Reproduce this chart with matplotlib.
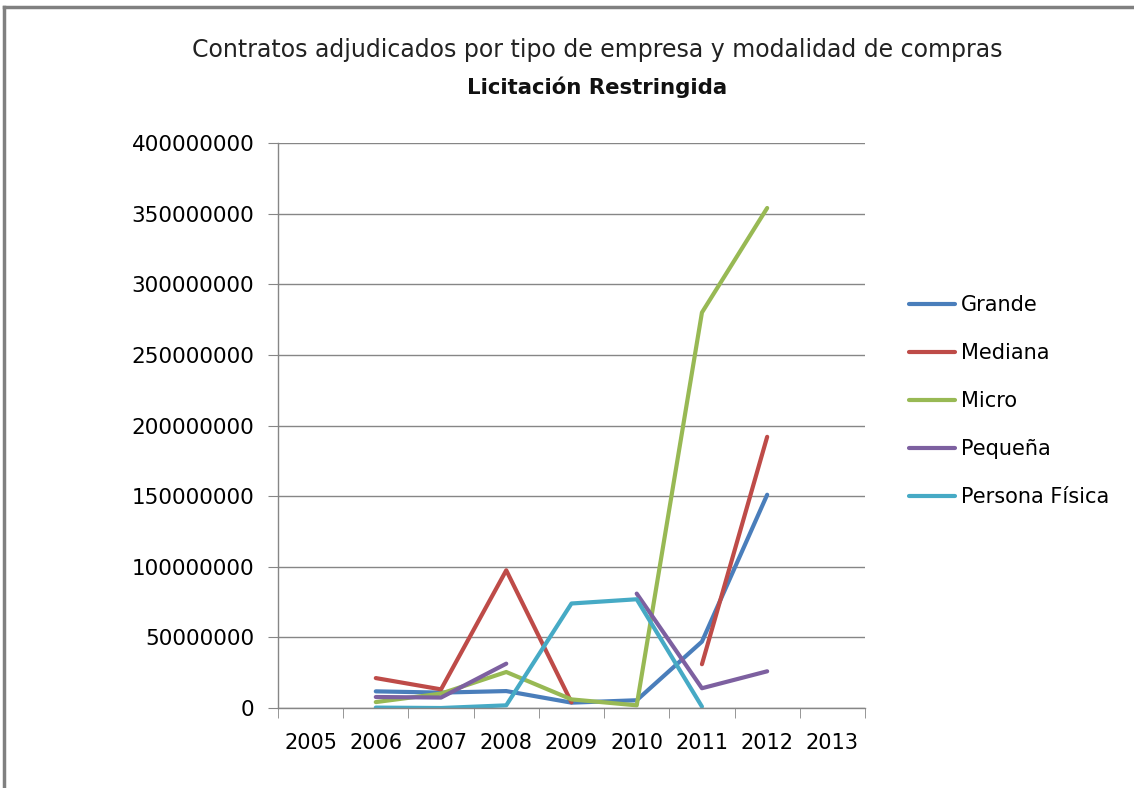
import numpy as np
import matplotlib
matplotlib.use("Agg")
import matplotlib.pyplot as plt
from matplotlib.lines import Line2D

# categories on the x axis (2005 and 2013 carry no data)
years = ["2005", "2006", "2007", "2008", "2009", "2010", "2011", "2012", "2013"]
nan = np.nan

# values, one per year
grande = [nan, 11.8e6, 10.9e6, 12.0e6, 3.8e6, 5.5e6, 47e6, 151e6, nan]
mediana = [nan, 21.2e6, 13.2e6, 97.5e6, 4.0e6, nan, 31e6, 192e6, nan]
micro = [nan, 4.2e6, 10.2e6, 25.5e6, 6.1e6, 1.9e6, 280e6, 354e6, nan]
pequena = [nan, 7.8e6, 7.4e6, 31.4e6, nan, 81e6, 14e6, 26e6, nan]
persona = [nan, 0.3e6, 0.0, 1.9e6, 74e6, 77e6, 1.0e6, nan, nan]

series = [("Grande", grande, "#4A7EBB"),
          ("Mediana", mediana, "#BE4B48"),
          ("Micro", micro, "#98B954"),
          ("Pequeña", pequena, "#7D60A0"),
          ("Persona Física", persona, "#46AAC5")]

fig = plt.figure(figsize=(11.34, 7.88), dpi=100)
ax = fig.add_axes([0.2451, 0.1015, 0.5177, 0.717])

x = np.arange(len(years))
for name, vals, col in series:
    ax.plot(x, vals, color=col, lw=3, label=name, solid_capstyle="round",
            solid_joinstyle="round")

ax.set_xlim(-0.5, len(years) - 0.5)
ax.set_ylim(0, 400e6)
ax.set_yticks(np.arange(0, 400e6 + 1, 50e6))
ax.set_yticklabels([str(int(v)) for v in np.arange(0, 400e6 + 1, 50e6)])
ax.set_xticks(x)
ax.set_xticklabels(years)
ax.set_xticks(np.arange(-0.5, len(years)), minor=True)
ax.tick_params(axis="x", which="major", length=0, pad=18, labelsize=15)
ax.tick_params(axis="x", which="minor", length=7, color="#868686", direction="out")
ax.tick_params(axis="y", length=7, color="#868686", pad=10, labelsize=15.5)
ax.yaxis.grid(True, color="#868686", lw=1)
ax.set_axisbelow(True)
for s in ["top", "right"]:
    ax.spines[s].set_visible(False)
for s in ["left", "bottom"]:
    ax.spines[s].set_color("#868686")
    ax.spines[s].set_linewidth(1)

fig.text(0.5265, 0.936, "Contratos adjudicados por tipo de empresa y modalidad de compras",
         ha="center", va="center", fontsize=17, color="#222222")
fig.text(0.5265, 0.889, "Licitación Restringida", ha="center", va="center",
         fontsize=15.3, fontweight="bold", color="#111111")

handles = [Line2D([], [], color=c, lw=3, solid_capstyle="round") for _, _, c in series]
fig.legend(handles, [n for n, _, _ in series], loc="upper left",
           bbox_to_anchor=(0.785, 0.649), frameon=False, fontsize=15,
           handlelength=2.2, handletextpad=0.3, labelspacing=1.34)

# outer chart frame (top and left edges visible)
fig.add_artist(Line2D([4 / 1134, 1], [1 - 7 / 788, 1 - 7 / 788], color="#808080", lw=2.5,
                      transform=fig.transFigure))
fig.add_artist(Line2D([4 / 1134, 4 / 1134], [0, 1 - 7 / 788], color="#808080", lw=2.5,
                      transform=fig.transFigure))

fig.savefig("out.png", dpi=100)
